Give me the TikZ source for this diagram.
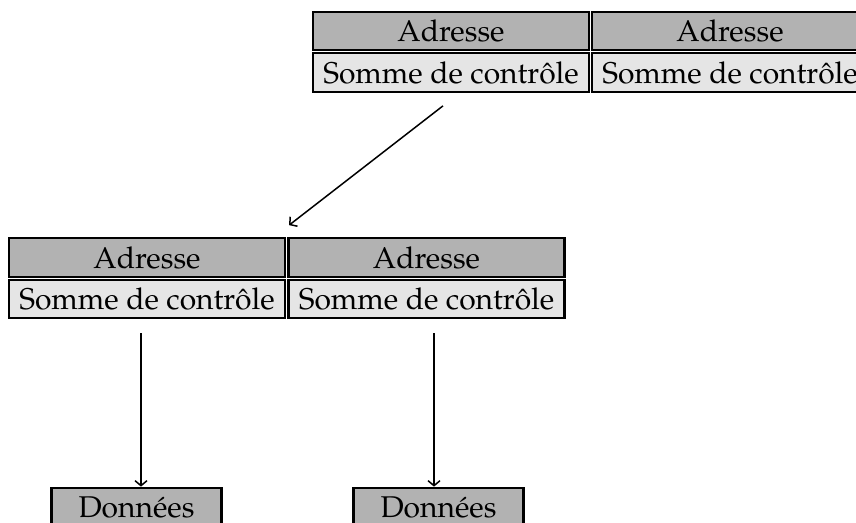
\documentclass[tikz,border=0pt]{standalone}
\usepackage[T1]{fontenc}
\usepackage{mathpazo}
\usetikzlibrary{arrows.meta}

\begin{document}
\begin{tikzpicture}[x=1pt,y=-1pt,
  cell/.style={draw, line width=2.2pt, minimum width=276pt, minimum height=38.5pt,
               inner sep=0pt, font=\fontsize{30}{35}\selectfont},
  head/.style={cell, fill=gray!60},
  body/.style={cell, fill=gray!20},
  datum/.style={draw, line width=2.2pt, fill=gray!60, minimum width=170pt,
               minimum height=38.5pt, inner sep=0pt, font=\fontsize{30}{35}\selectfont},
  link/.style={line width=1.5pt, -{Straight Barb[length=5pt,width=12pt,line width=1.5pt]}}]
\useasboundingbox (0,0) rectangle (856,522);

% upper node: two entries
\node[head] (th1) at (451,31)   {Adresse};
\node[head] (th2) at (730,31)   {Adresse};
\node[body] (ts1) at (451,72.5) {Somme de contr\^ole};
\node[body] (ts2) at (730,72.5) {Somme de contr\^ole};

% lower node: two entries
\node[head] (lh1) at (147,257.5)   {Adresse};
\node[head] (lh2) at (426.5,257.5) {Adresse};
\node[body] (ls1) at (147,299)     {Somme de contr\^ole};
\node[body] (ls2) at (426.5,299)   {Somme de contr\^ole};

% data blocks
\node[datum] (d1) at (136.5,507) {Donn\'ees};
\node[datum] (d2) at (438.5,507) {Donn\'ees};

% links
\draw[link] ([shift={(-8,13)}]ts1.south) -- ([shift={(3,-12)}]lh1.north east);
\coordinate (s1) at ([shift={(-6,14)}]ls1.south);
\coordinate (s2) at ([shift={(7.5,14)}]ls2.south);
\draw[link] (s1) -- (s1 |- d1.north);
\draw[link] (s2) -- (s2 |- d2.north);
\end{tikzpicture}
\end{document}
